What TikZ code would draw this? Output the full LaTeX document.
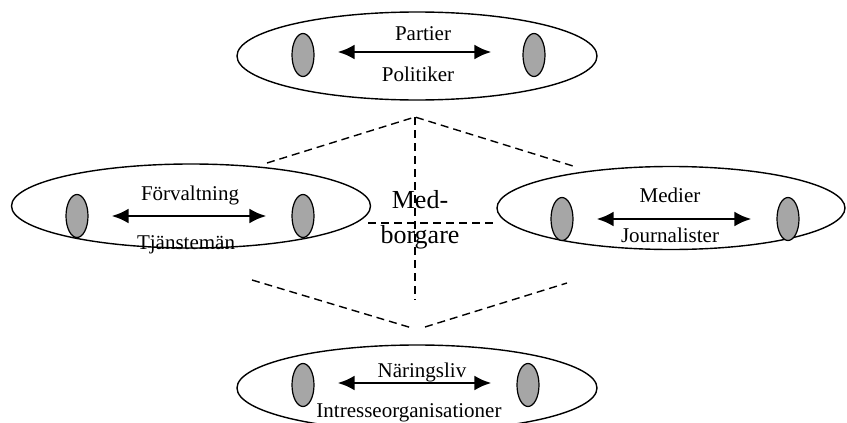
\documentclass[tikz,border=0pt]{standalone}
\usepackage{fontspec}
\setmainfont{Liberation Serif}
\usetikzlibrary{arrows.meta,shapes.geometric}
\tikzset{
  sector/.style={draw,line width=1.4pt,ellipse,inner sep=0pt,minimum width=#1},
  actor/.style={draw,line width=1.2pt,fill=black!35,ellipse,inner sep=0pt,minimum width=22pt,minimum height=43pt},
  link/.style={{Latex[length=17pt,width=15pt]}-{Latex[length=17pt,width=15pt]},line width=2.8pt,shorten <=23pt,shorten >=25pt},
  lbl/.style={font=\fontsize{21}{24}\selectfont,anchor=base,inner sep=0pt},
  zone/.style={dash pattern=on 8pt off 5pt,line width=1.4pt}
}
\begin{document}
\begin{tikzpicture}[x=1pt,y=-1pt]
\useasboundingbox (0,0) rectangle (847,423);
% dashed field round the citizens
\coordinate (apex) at (415,117); \coordinate (foot) at (415,300);
\coordinate (ul) at (267,163); \coordinate (ur) at (573,166);
\coordinate (ll) at (252,280); \coordinate (lr) at (567,283);
\coordinate (lowL) at (412,328); \coordinate (lowR) at (425,327);
\coordinate (midL) at (368,223); \coordinate (midR) at (497,223);
\draw[zone] (ul)--(apex)--(ur); \draw[zone] (apex)--(foot);
\draw[zone] (ll)--(lowL); \draw[zone] (lowR)--(lr); \draw[zone] (midL)--(midR);
% the four sectors
\node[sector=360pt,minimum height=88pt] (pol) at (417,56) {};
\node[sector=359pt,minimum height=84pt] (adm) at (191,206) {};
\node[sector=348pt,minimum height=83pt] (med) at (671,208) {};
\node[sector=360pt,minimum height=86pt] (bus) at (417,388) {};
\node[actor] (polA) at (303,55) {}; \node[actor] (polB) at (534,55) {};
\node[actor] (admA) at (77,216) {}; \node[actor] (admB) at (303,216) {};
\node[actor] (medA) at (562,219) {}; \node[actor] (medB) at (788,219) {};
\node[actor] (busA) at (303,385) {}; \node[actor] (busB) at (528,385) {};
\draw[link,shorten >=31pt] ([yshift=3pt]polA.east)--([yshift=3pt]polB.west);
\draw[link] (admA.east)--(admB.west);
\draw[link] (medA.east)--(medB.west);
\draw[link] ([yshift=2pt]busA.east)--([yshift=2pt]busB.west);
\node[lbl] (polT) at (423,40) {Partier}; \node[lbl] (polU) at (418,81) {Politiker};
\node[lbl] (admT) at (190,200) {Förvaltning}; \node[lbl] (admU) at (186,249) {Tjänstemän};
\node[lbl] (medT) at (670,202) {Medier}; \node[lbl] (medU) at (670,242) {Journalister};
\node[lbl] (busT) at (422,377) {Näringsliv}; \node[lbl] (busU) at (409,417) {Intresseorganisationer};
\node[lbl,font=\fontsize{26}{30}\selectfont] (cit1) at (420,208) {Med-};
\node[lbl,font=\fontsize{26}{30}\selectfont] (cit2) at (420,243) {borgare};
\end{tikzpicture}
\end{document}
